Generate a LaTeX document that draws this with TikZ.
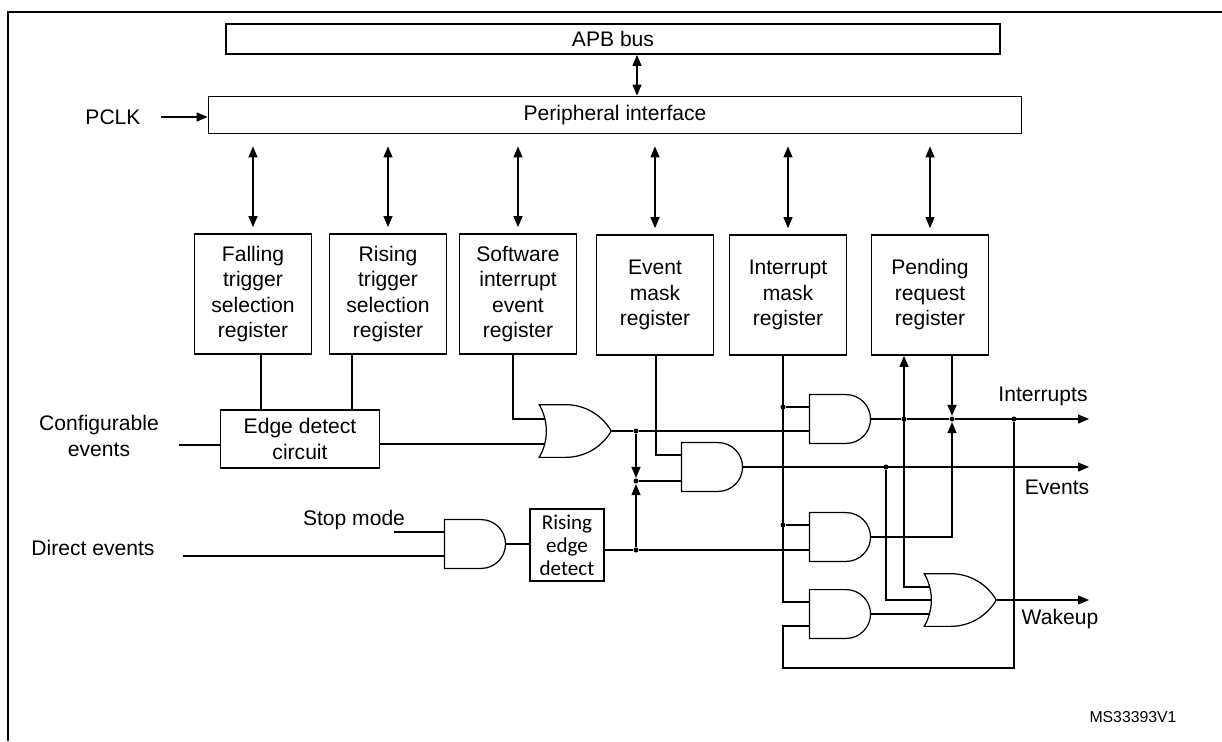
\documentclass[tikz,border=0pt]{standalone}
\usepackage{fontspec}
\setmainfont{Liberation Sans}
\newfontfamily\calfont{Carlito}
\usetikzlibrary{arrows.meta,shapes.gates.logic.US}

\begin{document}
\begin{tikzpicture}[x=0.02cm,y=-0.02cm,>={Triangle[length=0.22cm,width=0.18cm]},
  font=\fontsize{12}{14.5}\selectfont, line width=0.7pt,
  box/.style={draw, rectangle, line width=1pt, inner sep=0pt},
  reg/.style={box, minimum width=117*0.02cm, minimum height=120*0.02cm, align=center},
  andg/.style={and gate US, draw, logic gate inputs=nn, minimum width=61*0.02cm, minimum height=48*0.02cm, inner sep=0pt},
  org/.style={or gate US, draw, minimum width=72*0.02cm, minimum height=51*0.02cm, inner sep=0pt},
  dot/.style={circle, fill, inner sep=0pt, minimum size=0.1cm}]
  \useasboundingbox (0,0) rectangle (1222,741);
  \draw[line width=1.2pt] (8,741) -- (8,12) -- (1222,12);

  % bus and interface
  \node[box, minimum width=774*0.02cm, minimum height=30*0.02cm] (apb) at (613,39) {APB bus};
  \node[box, minimum width=813*0.02cm, minimum height=37*0.02cm] (periph) at (615,115) {Peripheral interface};
  \node (pclk) at (113,117) {PCLK};
  \draw[<->] (apb.south -| 637,0) -- (periph.north -| 637,0);
  \draw[->] (161,117) -- (periph.west |- pclk);

  % registers
  \node[reg] (fall) at (253,294) {Falling\\trigger\\selection\\register};
  \node[reg] (rise) at (388,294) {Rising\\trigger\\selection\\register};
  \node[reg] (swi) at (518,294) {Software\\interrupt\\event\\register};
  \node[reg] (emr) at (655,295) {Event\\mask\\register};
  \node[reg] (imr) at (788,295) {Interrupt\\mask\\register};
  \node[reg] (pend) at (930,295) {Pending\\request\\register};
  \foreach \r in {fall,rise,swi,emr,imr,pend}
    \draw[<->, shorten <=12*0.02cm, shorten >=6*0.02cm] (periph.south -| \r.north) -- (\r.north);

  % inputs
  \node[box, minimum width=159*0.02cm, minimum height=58*0.02cm, align=center] (edge) at (300,439) {Edge detect\\circuit};
  \node[align=center] (conf) at (99,436) {Configurable\\events};
  \node (direct) at (93,548) {Direct events};
  \node (stop) at (354,520) {Stop mode};
  \node[box, line width=0.7pt, minimum width=74*0.02cm, minimum height=72*0.02cm, align=center, font=\calfont\fontsize{12}{13}\selectfont] (red) at (567,545) {Rising\\edge\\detect};

  % gates
  \node[org] (or1) at (570,431) {};
  \node[andg] (sand) at (473,544) {};
  \node[andg] (and1) at (838,419) {};
  \node[andg] (and2) at (710,467) {};
  \node[andg] (and3) at (838,537) {};
  \node[andg] (and4) at (838,614) {};
  \node[org, logic gate inputs=nnn] (or2) at (955,600) {};

  % junctions
  \node[dot] (d1) at (636,431) {};
  \node[dot] (d2) at (636,550) {};
  \node[dot] (d3) at (636,481) {};
  \node[dot] (i1) at (783,407) {};
  \node[dot] (i3) at (783,525) {};
  \node[dot] (dp) at (904,419) {};
  \node[dot] (dI) at (952,419) {};
  \node[dot] (dE) at (886,467) {};
  \node[dot] (dW) at (1014,419) {};
  \coordinate (outI) at (1089,419);
  \coordinate (outE) at (1089,467);
  \coordinate (outW) at (1089,600);
  \node (lI) at (1043,396) {Interrupts};
  \node (lE) at (1057,487) {Events};
  \node (lW) at (1060,619) {Wakeup};
  \node[font=\fontsize{9}{11}\selectfont] (ms) at (1133,717) {MS33393V1};

  % wiring
  \draw (fall.south -| 261,0) -- (edge.north -| 261,0);
  \draw (rise.south -| 352,0) -- (edge.north -| 352,0);
  \draw (swi.south -| 513,0) |- (or1.input 1 |- 0,419);
  \draw (179,445) -- (edge.west |- 179,445);
  \draw (edge.east |- 0,444) -- (or1.input 2 |- 0,444);
  \draw (183,556) -- (sand.input 2 |- 0,556);
  \draw (394,532) -- (sand.input 1 |- 0,532);
  \draw (sand.output) -- (red.west |- sand.output);
  \draw (red.east |- d2) -- (d2) -- (and3.input 2 |- d2);
  \draw (or1.output) -- (d1) -- (and1.input 2 |- d1);
  \draw[->] (d1) -- (d3);
  \draw[->] (d2) -- (d3);
  \draw (d3) -- (and2.input 2 |- d3);
  \draw (emr.south -| 656,0) |- (and2.input 1 |- 0,455);
  \draw (imr.south -| 783,0) |- (and4.input 1 |- 0,602);
  \draw (i1) -- (and1.input 1 |- i1);
  \draw (i3) -- (and3.input 1 |- i3);
  \draw (and1.output) -- (dp) -- (dI);
  \draw[->] (or2.input 1 |- 0,587) -| (pend.south -| dp);
  \draw[->] (pend.south -| dI) -- (dI);
  \draw[->] (and3.output) -| (dI);
  \draw[->] (dI) -- (outI);
  \draw[->] (and2.output) -- (outE);
  \draw (dE) |- (or2.input 2);
  \draw (and4.output) -- (or2.input 3 |- and4.output);
  \draw[->] (or2.output) -- (outW);
  \draw (dW) |- (783,668) |- (and4.input 2 |- 0,626);
\end{tikzpicture}
\end{document}
